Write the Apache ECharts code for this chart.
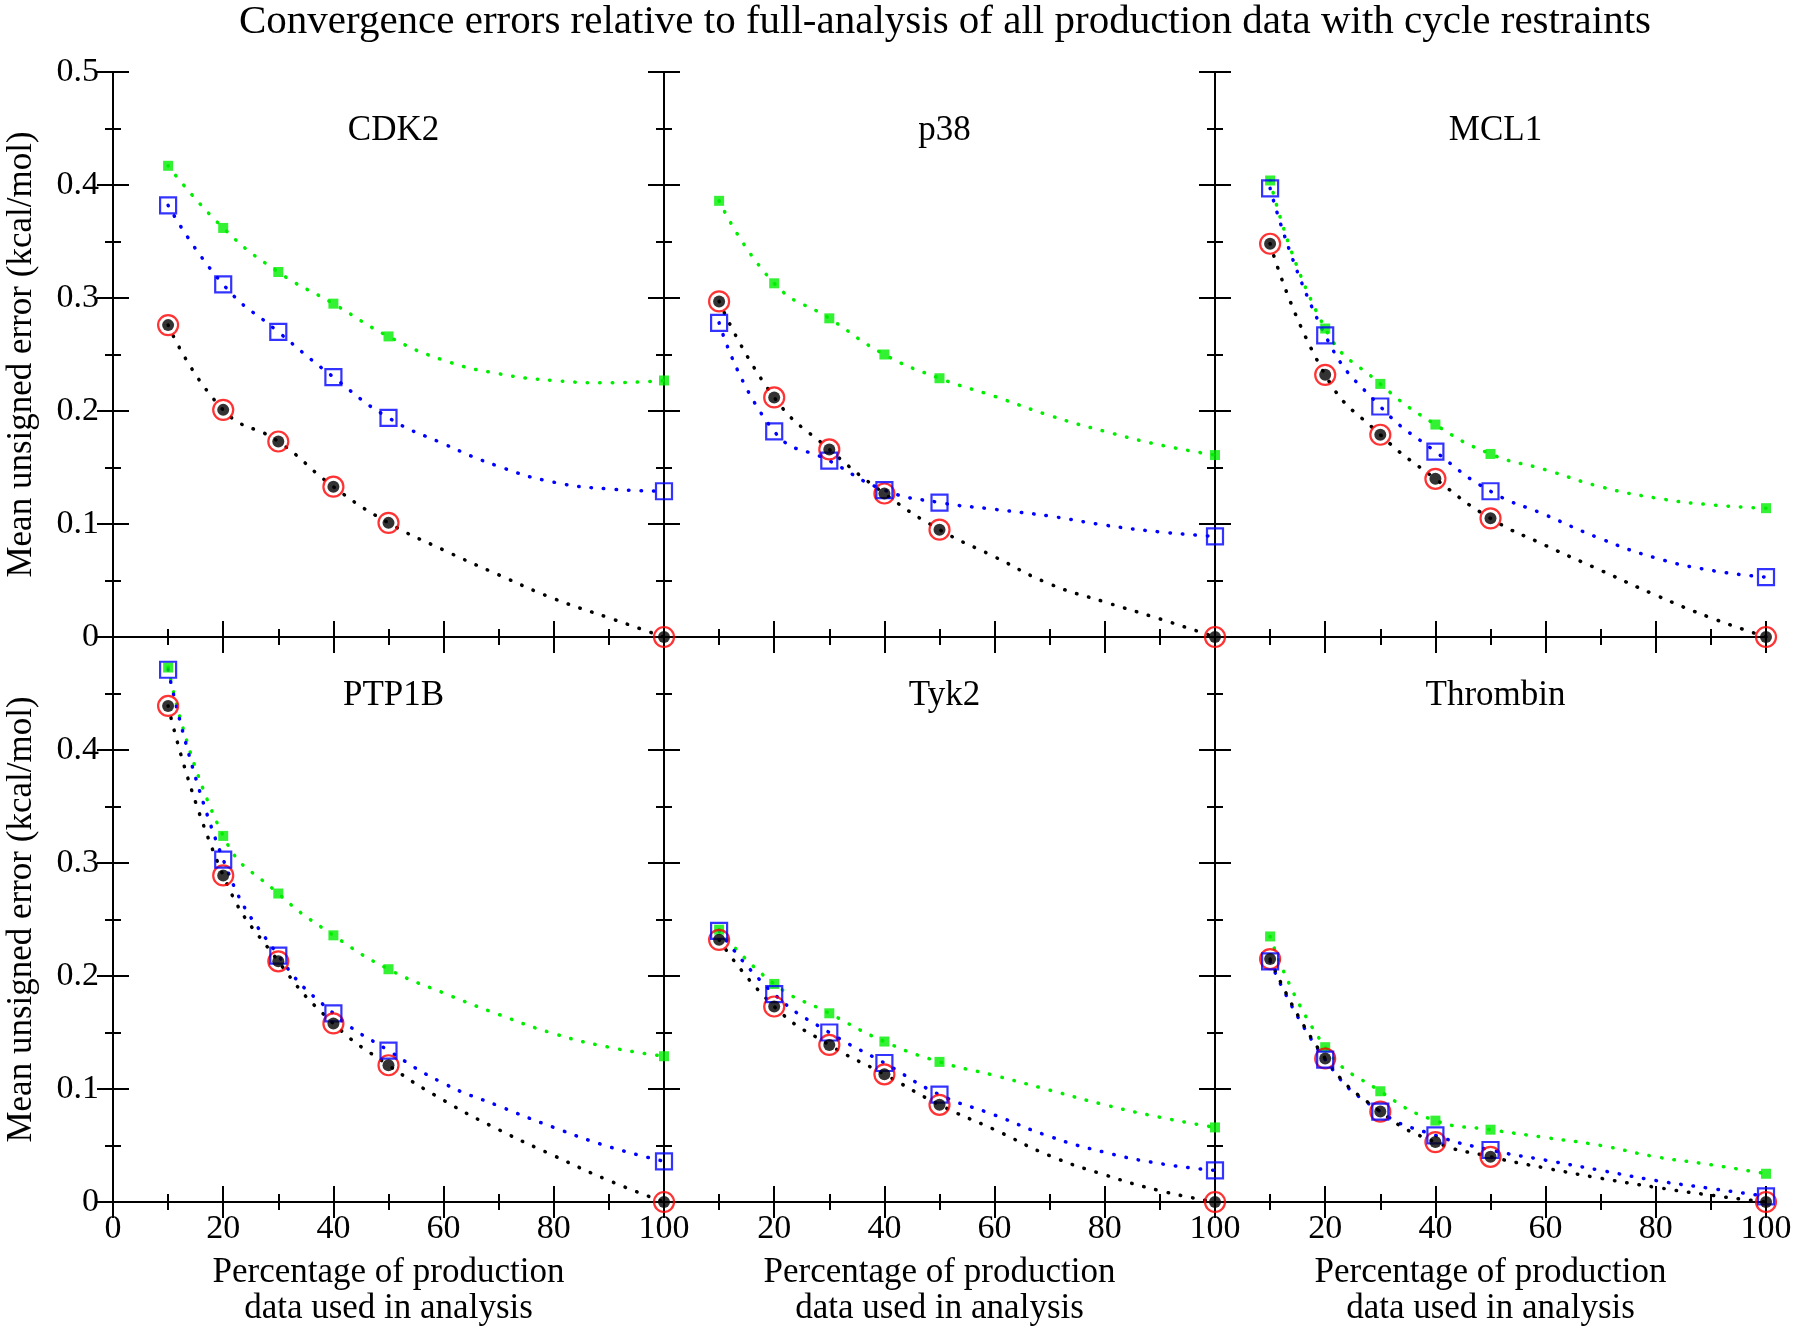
<!DOCTYPE html>
<html>
<head>
<meta charset="utf-8">
<script src="https://cdn.jsdelivr.net/npm/echarts@6/dist/echarts.min.js"></script>
<style>
  html, body { margin: 0; padding: 0; background: #fff; }
  #chart { width: 1800px; height: 1330px; }
</style>
</head>
<body>
<div id="chart"></div>
<script>
const panelNames = ['CDK2', 'p38', 'MCL1', 'PTP1B', 'Tyk2', 'Thrombin'];
const markX = [10, 20, 30, 40, 50, 100];
const curveX = [10, 20, 30, 40, 50, 60, 70, 80, 90, 100];

// symbols, one row per panel
const greenPoints = [
    [0.417, 0.362, 0.323, 0.295, 0.266, 0.227],
    [0.386, 0.313, 0.282, 0.250, 0.229, 0.161],
    [0.404, 0.273, 0.224, 0.188, 0.162, 0.114],
    [0.473, 0.324, 0.273, 0.236, 0.206, 0.129],
    [0.241, 0.193, 0.167, 0.142, 0.124, 0.066],
    [0.235, 0.137, 0.098, 0.072, 0.064, 0.025]
];
const bluePoints = [
    [0.382, 0.312, 0.270, 0.230, 0.194, 0.129],
    [0.278, 0.182, 0.156, 0.130, 0.119, 0.089],
    [0.397, 0.267, 0.204, 0.164, 0.129, 0.053],
    [0.471, 0.303, 0.218, 0.167, 0.134, 0.036],
    [0.240, 0.184, 0.150, 0.123, 0.095, 0.028],
    [0.213, 0.126, 0.080, 0.059, 0.046, 0.005]
];
const blackPoints = [
    [0.276, 0.201, 0.173, 0.133, 0.101, 0],
    [0.297, 0.212, 0.166, 0.127, 0.095, 0],
    [0.348, 0.232, 0.179, 0.140, 0.105, 0],
    [0.439, 0.289, 0.213, 0.158, 0.121, 0],
    [0.232, 0.173, 0.139, 0.113, 0.086, 0],
    [0.215, 0.127, 0.080, 0.053, 0.040, 0]
];

// dotted fit curves read at 10..100
const greenCurve = [
    [0.417, 0.362, 0.323, 0.295, 0.266, 0.245, 0.233, 0.227, 0.225, 0.227],
    [0.386, 0.313, 0.282, 0.250, 0.229, 0.213, 0.196, 0.182, 0.170, 0.161],
    [0.404, 0.273, 0.224, 0.188, 0.162, 0.148, 0.133, 0.123, 0.117, 0.114],
    [0.473, 0.324, 0.273, 0.236, 0.206, 0.185, 0.166, 0.149, 0.137, 0.129],
    [0.241, 0.193, 0.167, 0.142, 0.124, 0.112, 0.099, 0.086, 0.075, 0.066],
    [0.235, 0.137, 0.098, 0.072, 0.064, 0.057, 0.050, 0.040, 0.033, 0.025]
];
const blueCurve = [
    [0.382, 0.312, 0.270, 0.230, 0.194, 0.171, 0.151, 0.137, 0.131, 0.129],
    [0.278, 0.182, 0.156, 0.130, 0.119, 0.113, 0.107, 0.099, 0.093, 0.089],
    [0.397, 0.267, 0.204, 0.164, 0.129, 0.108, 0.087, 0.070, 0.059, 0.053],
    [0.471, 0.303, 0.218, 0.167, 0.134, 0.105, 0.085, 0.066, 0.049, 0.036],
    [0.240, 0.184, 0.150, 0.123, 0.095, 0.077, 0.058, 0.044, 0.034, 0.028],
    [0.213, 0.126, 0.080, 0.059, 0.046, 0.037, 0.028, 0.019, 0.012, 0.005]
];
const blackCurve = [
    [0.276, 0.201, 0.173, 0.133, 0.101, 0.077, 0.055, 0.034, 0.017, 0],
    [0.297, 0.212, 0.166, 0.127, 0.095, 0.071, 0.047, 0.031, 0.016, 0],
    [0.348, 0.232, 0.179, 0.140, 0.105, 0.081, 0.059, 0.037, 0.017, 0],
    [0.439, 0.289, 0.213, 0.158, 0.121, 0.090, 0.064, 0.041, 0.019, 0],
    [0.232, 0.173, 0.139, 0.113, 0.086, 0.064, 0.041, 0.024, 0.010, 0],
    [0.215, 0.127, 0.080, 0.053, 0.040, 0.030, 0.021, 0.013, 0.006, 0]
];

const FONT = '"Liberation Serif", "Times New Roman", serif';
const GREEN = '#00ee00', BLUE = '#0000ff', RED = '#ff0000', BLACK = '#000000';

const gridLeft = [113, 664, 1215];
const gridTop = [72, 637];
const gridW = 551, gridH = 565;

const chart = echarts.init(document.getElementById('chart'));

const grids = [], xAxes = [], yAxes = [], series = [], titles = [];

titles.push({
    text: 'Convergence errors relative to full-analysis of all production data with cycle restraints',
    left: 940, top: -3, textAlign: 'center',
    textStyle: { fontFamily: FONT, fontWeight: 'normal', fontSize: 41, color: '#000' }
});

const lineCol = { color: '#000', width: 2 };

panelNames.forEach(function (name, p) {
    const col = p % 3, row = Math.floor(p / 3);
    grids.push({ left: gridLeft[col], top: gridTop[row], width: gridW, height: gridH });

    titles.push({
        text: name,
        left: gridLeft[col] + gridW / 2, top: gridTop[row] + 36, textAlign: 'center',
        textStyle: { fontFamily: FONT, fontWeight: 'normal', fontSize: 35, color: '#000' }
    });

    const isBottom = row === 1, isLeft = col === 0;
    const xBase = {
        type: 'value', gridIndex: p, min: 0, max: 100, interval: 20,
        splitLine: { show: false },
        axisLine: { show: true, lineStyle: lineCol },
        axisTick: { show: true, inside: true, length: 16, lineStyle: lineCol },
        minorTick: { show: true, splitNumber: 2, length: 8, lineStyle: lineCol }
    };
    xAxes.push(Object.assign({}, xBase, {
        position: 'bottom',
        axisLabel: {
            show: isBottom, margin: 10,
            fontFamily: FONT, fontSize: 34, color: '#000',
            formatter: function (v) { return (col > 0 && v === 0) ? '' : String(v); }
        },
        name: isBottom ? 'Percentage of production\ndata used in analysis' : '',
        nameLocation: 'middle', nameGap: 53,
        nameTextStyle: { fontFamily: FONT, fontSize: 35, color: '#000', lineHeight: 36, verticalAlign: 'top' }
    }));
    xAxes.push(Object.assign({}, xBase, { position: 'top', axisLabel: { show: false } }));

    const yBase = {
        type: 'value', gridIndex: p, min: 0, max: 0.5, interval: 0.1,
        splitLine: { show: false },
        axisLine: { show: true, lineStyle: lineCol },
        axisTick: { show: true, inside: true, length: 16, lineStyle: lineCol },
        minorTick: { show: true, splitNumber: 2, length: 8, lineStyle: lineCol }
    };
    yAxes.push(Object.assign({}, yBase, {
        position: 'left',
        axisLabel: {
            show: isLeft, margin: 14,
            fontFamily: FONT, fontSize: 34, color: '#000',
            formatter: function (v) {
                if (isBottom && Math.abs(v - 0.5) < 1e-9) return '';
                return String(Math.round(v * 10) / 10);
            }
        },
        name: isLeft ? 'Mean unsigned error (kcal/mol)' : '',
        nameLocation: 'middle', nameGap: 74,
        nameTextStyle: { fontFamily: FONT, fontSize: 35, color: '#000' }
    }));
    yAxes.push(Object.assign({}, yBase, { position: 'right', axisLabel: { show: false } }));

    const xi = p * 2, yi = p * 2;
    const curve = function (vals, color) {
        return {
            type: 'line', xAxisIndex: xi, yAxisIndex: yi, smooth: true, symbol: 'none',
            silent: true, z: 2,
            lineStyle: { color: color, width: 3.5, type: [0.5, 12], cap: 'round' },
            data: curveX.map(function (x, i) { return [x, vals[i]]; })
        };
    };
    const marks = function (vals, opts) {
        return Object.assign({
            type: 'scatter', xAxisIndex: xi, yAxisIndex: yi, silent: true,
            data: markX.map(function (x, i) { return [x, vals[i]]; })
        }, opts);
    };
    series.push(curve(greenCurve[p], GREEN));
    series.push(curve(blueCurve[p], BLUE));
    series.push(curve(blackCurve[p], BLACK));
    series.push(marks(greenPoints[p], { symbol: 'rect', symbolSize: 10, itemStyle: { color: GREEN }, z: 3 }));
    series.push(marks(blackPoints[p], { symbol: 'circle', symbolSize: 20, itemStyle: { color: 'rgba(0,0,0,0)', borderColor: RED, borderWidth: 2.2 }, z: 4 }));
    series.push(marks(bluePoints[p], { symbol: 'rect', symbolSize: 16, itemStyle: { color: 'rgba(0,0,0,0)', borderColor: BLUE, borderWidth: 2.2 }, z: 5 }));
    series.push(marks(blackPoints[p], { symbol: 'circle', symbolSize: 12, itemStyle: { color: BLACK }, z: 6 }));
});

chart.setOption({
    animation: false,
    backgroundColor: '#fff',
    title: titles,
    grid: grids,
    xAxis: xAxes,
    yAxis: yAxes,
    series: series
});
</script>
</body>
</html>
